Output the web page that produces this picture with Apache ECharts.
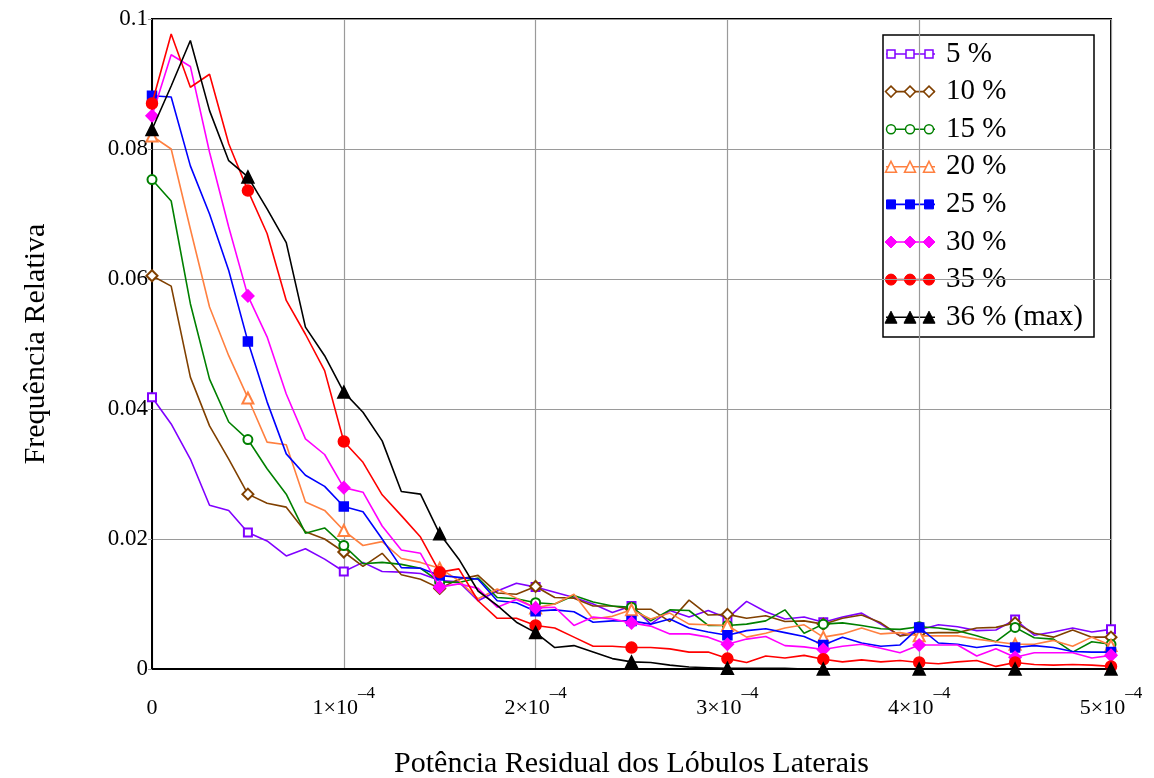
<!DOCTYPE html>
<html><head><meta charset="utf-8">
<script src="https://cdn.jsdelivr.net/npm/echarts@6/dist/echarts.min.js"></script>
<style>html,body{margin:0;padding:0;background:#fff}#c{width:1154px;height:778px}</style>
</head><body><div id="c"></div>
<script>
// ---------- data ----------
const xPower = [0,1e-5,2e-5,3e-5,4e-5,5e-5,6e-5,7e-5,8e-5,9e-5,1e-4,
  1.1e-4,1.2e-4,1.3e-4,1.4e-4,1.5e-4,1.6e-4,1.7e-4,1.8e-4,1.9e-4,2e-4,
  2.1e-4,2.2e-4,2.3e-4,2.4e-4,2.5e-4,2.6e-4,2.7e-4,2.8e-4,2.9e-4,3e-4,
  3.1e-4,3.2e-4,3.3e-4,3.4e-4,3.5e-4,3.6e-4,3.7e-4,3.8e-4,3.9e-4,4e-4,
  4.1e-4,4.2e-4,4.3e-4,4.4e-4,4.5e-4,4.6e-4,4.7e-4,4.8e-4,4.9e-4,5e-4];

const seriesNames = ['5 %','10 %','15 %','20 %','25 %','30 %','35 %','36 % (max)'];

const freq05 = [0.0418,0.0377,0.0323,0.0252,0.0244,0.0210,0.0197,0.0174,0.0185,0.0169,0.0150,
  0.0164,0.0150,0.0149,0.0147,0.0136,0.0134,0.0105,0.0120,0.0132,0.0126,
  0.0118,0.0110,0.0100,0.0087,0.0097,0.0069,0.0090,0.0080,0.0090,0.0078,
  0.0104,0.0088,0.0077,0.0080,0.0072,0.0080,0.0086,0.0069,0.0051,0.0060,
  0.0068,0.0065,0.0059,0.0060,0.0076,0.0052,0.0057,0.0063,0.0057,0.0061];
const freq10 = [0.0605,0.0589,0.0449,0.0374,0.0323,0.0269,0.0255,0.0249,0.0211,0.0200,0.0180,
  0.0158,0.0178,0.0145,0.0138,0.0124,0.0138,0.0144,0.0117,0.0115,0.0127,
  0.0110,0.0109,0.0097,0.0097,0.0092,0.0092,0.0073,0.0106,0.0083,0.0084,
  0.0078,0.0082,0.0073,0.0074,0.0069,0.0078,0.0083,0.0071,0.0051,0.0055,
  0.0056,0.0056,0.0063,0.0064,0.0071,0.0055,0.0049,0.0060,0.0049,0.0049];
const freq15 = [0.0753,0.0720,0.0562,0.0446,0.0380,0.0353,0.0308,0.0269,0.0209,0.0217,0.0190,
  0.0162,0.0164,0.0161,0.0155,0.0134,0.0133,0.0140,0.0110,0.0108,0.0102,
  0.0100,0.0113,0.0103,0.0097,0.0095,0.0074,0.0091,0.0090,0.0067,0.0067,
  0.0069,0.0074,0.0091,0.0055,0.0069,0.0071,0.0067,0.0062,0.0061,0.0065,
  0.0063,0.0059,0.0051,0.0042,0.0064,0.0048,0.0046,0.0026,0.0042,0.0038];
const freq20 = [0.0820,0.0800,0.0677,0.0557,0.0482,0.0417,0.0349,0.0345,0.0257,0.0244,0.0213,
  0.0190,0.0196,0.0170,0.0164,0.0155,0.0136,0.0108,0.0123,0.0109,0.0094,
  0.0100,0.0115,0.0077,0.0081,0.0091,0.0077,0.0086,0.0069,0.0068,0.0067,
  0.0049,0.0055,0.0063,0.0068,0.0049,0.0054,0.0063,0.0054,0.0056,0.0051,
  0.0051,0.0051,0.0046,0.0042,0.0038,0.0038,0.0044,0.0035,0.0049,0.0036];
const freq25 = [0.0882,0.0880,0.0774,0.0700,0.0613,0.0504,0.0411,0.0331,0.0298,0.0281,0.0250,
  0.0242,0.0200,0.0156,0.0155,0.0144,0.0141,0.0138,0.0105,0.0102,0.0089,
  0.0091,0.0088,0.0072,0.0074,0.0074,0.0069,0.0077,0.0063,0.0057,0.0052,
  0.0059,0.0062,0.0056,0.0050,0.0037,0.0049,0.0040,0.0035,0.0037,0.0064,
  0.0040,0.0038,0.0033,0.0037,0.0033,0.0036,0.0033,0.0027,0.0026,0.0026];
const freq30 = [0.0851,0.0945,0.0927,0.0795,0.0680,0.0574,0.0511,0.0423,0.0354,0.0330,0.0279,
  0.0272,0.0220,0.0183,0.0178,0.0126,0.0131,0.0124,0.0095,0.0107,0.0094,
  0.0095,0.0067,0.0080,0.0077,0.0071,0.0066,0.0054,0.0054,0.0049,0.0038,
  0.0046,0.0050,0.0036,0.0034,0.0030,0.0035,0.0038,0.0032,0.0025,0.0037,
  0.0037,0.0037,0.0020,0.0031,0.0018,0.0025,0.0025,0.0025,0.0017,0.0021];
const freq35 = [0.0870,0.0977,0.0895,0.0915,0.0808,0.0736,0.0670,0.0567,0.0515,0.0459,0.0350,
  0.0318,0.0268,0.0236,0.0203,0.0149,0.0154,0.0105,0.0078,0.0078,0.0067,
  0.0063,0.0049,0.0035,0.0035,0.0033,0.0033,0.0031,0.0026,0.0026,0.0016,
  0.0010,0.0020,0.0017,0.0021,0.0015,0.0011,0.0014,0.0011,0.0013,0.0010,
  0.0008,0.0011,0.0013,0.0004,0.0010,0.0007,0.0006,0.0007,0.0006,0.0004];
const freq36 = [0.0830,0.0897,0.0967,0.0859,0.0782,0.0757,0.0708,0.0656,0.0526,0.0482,0.0426,
  0.0395,0.0351,0.0273,0.0269,0.0208,0.0169,0.0120,0.0098,0.0072,0.0056,
  0.0033,0.0036,0.0026,0.0016,0.0011,0.0010,0.0006,0.0003,0.0002,0.0001,
  0.0001,0.0001,0.0001,0.0000,0.0000,0.0000,0.0000,0.0000,0.0000,0.0000,
  0.0000,0.0000,0.0000,0.0000,0.0000,0.0000,0.0000,0.0000,0.0000,0.0000];

const xTickMantissa = ['0','1','2','3','4','5'];
const xTickExponent = '–4';
const yTickLabels = ['0','0.02','0.04','0.06','0.08','0.1'];

// ---------- style ----------
const FONT = '"Liberation Serif","DejaVu Serif",serif';
const styles = [
  {color:'#8000FF', symbol:'emptyRect',     size:8,  hollow:true,  shape:'rect'},
  {color:'#804000', symbol:'emptyDiamond',  size:11, hollow:true,  shape:'diamond'},
  {color:'#008000', symbol:'emptyCircle',   size:9,  hollow:true,  shape:'circle'},
  {color:'#FF8040', symbol:'emptyTriangle', size:11, hollow:true,  shape:'triangle'},
  {color:'#0000FF', symbol:'rect',          size:9,  hollow:false, shape:'rect'},
  {color:'#FF00FF', symbol:'diamond',       size:12, hollow:false, shape:'diamond'},
  {color:'#FF0000', symbol:'circle',        size:11, hollow:false, shape:'circle'},
  {color:'#000000', symbol:'triangle',      size:12, hollow:false, shape:'triangle'}
];
const allFreq = [freq05,freq10,freq15,freq20,freq25,freq30,freq35,freq36];

const series = allFreq.map((arr, k) => {
  const st = styles[k];
  return {
    name: seriesNames[k],
    type: 'line',
    data: arr.map((v, i) => [xPower[i], v]),
    showSymbol: true,
    showAllSymbol: true,
    symbol: (val, p) => (p.dataIndex % 5 === 0 ? st.symbol : 'none'),
    symbolSize: st.size,
    lineStyle: {color: st.color, width: 1.6},
    itemStyle: {color: st.color, borderColor: st.color, borderWidth: 1.5},
    animation: false,
    z: 3 + k
  };
});

// ---------- legend via graphic ----------
const LX = 883, LY = 35, LW = 211, LH = 302, ROW = 37.6, ROW0 = 54;
function markerShape(st, cx, cy) {
  const s = st.size;
  const style = st.hollow
    ? {fill:'#fff', stroke: st.color, lineWidth: 1.5}
    : {fill: st.color, stroke: st.color, lineWidth: 1};
  if (st.shape === 'rect') return {type:'rect', shape:{x:cx-s/2, y:cy-s/2, width:s, height:s}, style};
  if (st.shape === 'circle') return {type:'circle', shape:{cx, cy, r:s/2}, style};
  if (st.shape === 'diamond') return {type:'polygon', shape:{points:[[cx,cy-s/2],[cx+s/2,cy],[cx,cy+s/2],[cx-s/2,cy]]}, style};
  return {type:'polygon', shape:{points:[[cx,cy-s/2],[cx+s/2,cy+s/2],[cx-s/2,cy+s/2]]}, style};
}
const legendChildren = [{type:'rect', shape:{x:LX, y:LY, width:LW, height:LH}, style:{fill:'#fff', stroke:'#000', lineWidth:1.5}}];
seriesNames.forEach((nm, k) => {
  const st = styles[k];
  const cy = ROW0 + k * ROW;
  legendChildren.push({type:'line', shape:{x1:886, y1:cy, x2:935, y2:cy}, style:{stroke:st.color, lineWidth:1.6}});
  [891, 910, 929].forEach(cx => legendChildren.push(markerShape(st, cx, cy)));
  legendChildren.push({type:'text', x:946, y:cy, style:{text:nm, font:'29px ' + FONT, fill:'#000', verticalAlign:'middle', align:'left'}});
});

const chart = echarts.init(document.getElementById('c'), null, {renderer:'canvas'});
chart.setOption({
  backgroundColor: '#fff',
  animation: false,
  grid: {left:152, right:43, top:19, bottom:109, show:true, borderColor:'#000', borderWidth:2,
         backgroundColor:'transparent', containLabel:false, outerBoundsMode:'none'},
  xAxis: {
    type: 'value', min: 0, max: 5e-4, interval: 1e-4,
    name: 'Potência Residual dos Lóbulos Laterais', nameLocation: 'middle', nameGap: 80,
    nameTextStyle: {fontFamily: FONT, fontSize: 30, color: '#000'},
    axisLine: {show:true, onZero:false, lineStyle:{color:'#000', width:2}},
    axisTick: {show:false},
    splitLine: {show:true, lineStyle:{color:'#9a9a9a', width:1.2}},
    axisLabel: {
      margin: 16, color:'#000',
      formatter: v => {
        const i = Math.round(v / 1e-4);
        if (i === 0) return '{m|' + xTickMantissa[0] + '}';
        return '{m|' + xTickMantissa[i] + '×10}{e|' + xTickExponent + '}';
      },
      rich: {
        m: {fontFamily: FONT, fontSize: 22, lineHeight: 34, verticalAlign:'bottom', color:'#000'},
        e: {fontFamily: FONT, fontSize: 17, lineHeight: 16, verticalAlign:'top', color:'#000'}
      }
    }
  },
  yAxis: {
    type: 'value', min: 0, max: 0.1, interval: 0.02,
    name: 'Frequência Relativa', nameLocation: 'middle', nameGap: 101,
    nameTextStyle: {fontFamily: FONT, fontSize: 30, color: '#000'},
    axisLine: {show:true, lineStyle:{color:'#000', width:2}},
    axisTick: {show:true, length:4, lineStyle:{color:'#9a9a9a'}},
    splitLine: {show:true, lineStyle:{color:'#9a9a9a', width:1.2}},
    axisLabel: {
      margin: 4, color:'#000', fontFamily: FONT, fontSize: 23,
      formatter: v => yTickLabels[Math.round(v / 0.02)]
    }
  },
  series: series,
  graphic: [{type:'group', z: 100, children: legendChildren}]
});
</script></body></html>
